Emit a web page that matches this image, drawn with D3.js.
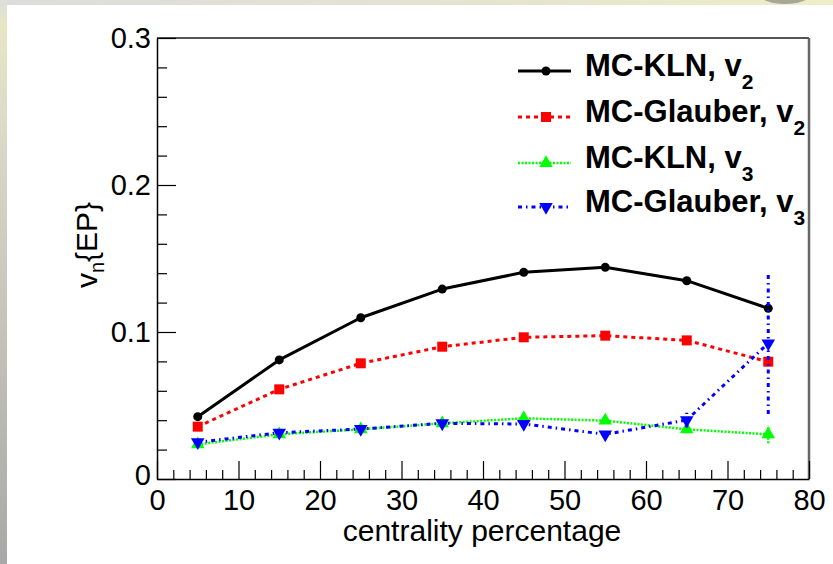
<!DOCTYPE html>
<html><head><meta charset="utf-8">
<script src="https://cdn.jsdelivr.net/npm/d3@7"></script>
<style>body{margin:0;background:#fff;} svg{display:block;}</style>
</head><body><svg id="c" width="833" height="564"></svg>
<script>
// ---- data ----
const centrality   = [5, 15, 25, 35, 45, 55, 65, 75];
const klnV2        = [0.0424, 0.0810, 0.1097, 0.1292, 0.1406, 0.1440, 0.1349, 0.1161];
const glauberV2    = [0.0356, 0.0610, 0.0787, 0.0900, 0.0964, 0.0975, 0.0943, 0.0798];
const klnV3        = [0.0236, 0.0304, 0.0338, 0.0379, 0.0413, 0.0397, 0.0338, 0.0304];
const glauberV3    = [0.0250, 0.0315, 0.0340, 0.0379, 0.0374, 0.0304, 0.0401, 0.0923];
const klnV3Err     = [0.001, 0.001, 0.001, 0.001, 0.001, 0.001, 0.002, 0.006];
const glauberV3Err = [0.001, 0.001, 0.001, 0.001, 0.001, 0.001, 0.005, 0.048];
const xTickValues  = [0, 10, 20, 30, 40, 50, 60, 70, 80];
const yTickValues  = [0, 0.1, 0.2, 0.3];
const yTickLabels  = ["0", "0.1", "0.2", "0.3"];
const seriesNames  = ["MC-KLN, v", "MC-Glauber, v", "MC-KLN, v", "MC-Glauber, v"];
const seriesSubs   = ["2", "2", "3", "3"];
const xTitle = "centrality percentage";

const svg = d3.select("#c");
const W = 833, H = 564;

// ---- slide background ----
const defs = svg.append("defs");
const lg = defs.append("linearGradient").attr("id","lstrip").attr("x1",0).attr("y1",0).attr("x2",0).attr("y2",1);
lg.append("stop").attr("offset","0").attr("stop-color","#dedede");
lg.append("stop").attr("offset","0.04").attr("stop-color","#e6e6c4");
lg.append("stop").attr("offset","0.2").attr("stop-color","#dcdcc8");
lg.append("stop").attr("offset","1").attr("stop-color","#a8a8a8");
const tg = defs.append("linearGradient").attr("id","tstrip").attr("x1",0).attr("y1",0).attr("x2",1).attr("y2",0);
tg.append("stop").attr("offset","0").attr("stop-color","#dcdcdc");
tg.append("stop").attr("offset","0.6").attr("stop-color","#e4e4d0");
tg.append("stop").attr("offset","1").attr("stop-color","#eeeec8");
svg.append("rect").attr("width",W).attr("height",H).attr("fill","#fff");
svg.append("rect").attr("x",0).attr("y",0).attr("width",W).attr("height",5).attr("fill","url(#tstrip)");
svg.append("rect").attr("x",0).attr("y",0).attr("width",7).attr("height",H).attr("fill","url(#lstrip)");
svg.append("ellipse").attr("cx",785).attr("cy",-6).attr("rx",26).attr("ry",10).attr("fill","#8a8a80").attr("opacity",0.7);

// ---- scales ----
const x0 = 157, x1 = 809, y0 = 479, y1 = 38;
const x = d3.scaleLinear().domain([0, 80]).range([x0, x1]);
const y = d3.scaleLinear().domain([0, 0.3]).range([y0, y1]);

// frame
svg.append("line").attr("x1",x0).attr("x2",x1).attr("y1",y1).attr("y2",y1).attr("stroke","#555").attr("stroke-width",2);
svg.append("line").attr("x1",x1).attr("x2",x1).attr("y1",y1).attr("y2",y0).attr("stroke","#666").attr("stroke-width",2.5);

// axes
const font = "'Liberation Sans', Arial, sans-serif";
const xAxis = d3.axisBottom(x).tickValues(d3.range(0, 81, 2)).tickSize(0).tickFormat("");
const gx = svg.append("g").attr("transform",`translate(0,${y0})`).call(xAxis);
gx.select(".domain").attr("stroke","#000").attr("stroke-width",1.5);
gx.selectAll(".tick line").attr("stroke","#000").attr("stroke-width",1.2)
  .attr("y2", d => (d % 10 === 0 ? -18 : -9));
gx.selectAll(".tick")
  .filter(d => d % 10 === 0)
  .append("text").attr("y", 31).attr("text-anchor","middle").attr("fill","#000")
  .style("font-family",font).style("font-size","29px")
  .text(d => xTickValues.includes(d) ? String(d) : "");

const yAxis = d3.axisLeft(y).tickValues(d3.range(0, 0.3001, 0.02)).tickSize(0).tickFormat("");
const gy = svg.append("g").attr("transform",`translate(${x0},0)`).call(yAxis);
gy.select(".domain").attr("stroke","#000").attr("stroke-width",1.5);
gy.selectAll(".tick line").attr("stroke","#000").attr("stroke-width",1.2)
  .attr("x2", (d) => (Math.abs(d*10 - Math.round(d*10)) < 1e-6 ? 19 : 10));
yTickValues.forEach((v, i) => {
  svg.append("text").attr("x", x0 - 6).attr("y", y(v) + 10 - (v === 0 ? 4 : 0)).attr("text-anchor","end")
    .style("font-family",font).style("font-size","29px").text(yTickLabels[i]);
});

// axis titles
svg.append("text").attr("x", 482).attr("y", 541).attr("text-anchor","middle")
  .style("font-family",font).style("font-size","30px").text(xTitle);
const yt = svg.append("text").attr("transform","translate(97,245) rotate(-90)").attr("text-anchor","middle")
  .style("font-family",font).style("font-size","30px");
yt.append("tspan").text("v");
yt.append("tspan").attr("dy",7).style("font-size","20px").text("n");
yt.append("tspan").attr("dy",-7).text("{EP}");

// ---- series ----
const series = [
  {vals: klnV2, err: null, color:"#000", width:3, dash:null, marker:"circle"},
  {vals: glauberV2, err: null, color:"#ff0000", width:3, dash:"4,4", marker:"square"},
  {vals: klnV3, err: klnV3Err, color:"#00ff00", width:2.5, dash:"2,1.5", marker:"triangleUp"},
  {vals: glauberV3, err: glauberV3Err, color:"#0000ff", width:3, dash:"4,4,1.5,4", marker:"triangleDown"}
];
const symType = {circle: d3.symbolCircle, square: d3.symbolSquare, triangleUp: d3.symbolTriangle, triangleDown: d3.symbolTriangle};
const symSize = {circle: 64, square: 100, triangleUp: 80, triangleDown: 80};

function drawMarker(g, type, cx, cy, color) {
  const p = d3.symbol().type(symType[type]).size(symSize[type])();
  g.append("path").attr("d", p).attr("fill", color)
    .attr("transform", `translate(${cx},${cy})` + (type === "triangleDown" ? " rotate(180)" : ""));
}

const line = d3.line().x(d => x(d[0])).y(d => y(d[1])).curve(d3.curveLinear);
series.forEach(s => {
  const g = svg.append("g");
  const pts = centrality.map((c, i) => [c, s.vals[i]]);
  const p = g.append("path").attr("d", line(pts)).attr("fill","none")
    .attr("stroke", s.color).attr("stroke-width", s.width).attr("stroke-linejoin","round");
  if (s.dash) p.attr("stroke-dasharray", s.dash);
  if (s.err) {
    centrality.forEach((c, i) => {
      const e = g.append("line").attr("x1", x(c)).attr("x2", x(c))
        .attr("y1", y(s.vals[i] - s.err[i])).attr("y2", y(s.vals[i] + s.err[i]))
        .attr("stroke", s.color).attr("stroke-width", s.width);
      if (s.dash) e.attr("stroke-dasharray", s.dash);
    });
  }
  centrality.forEach((c, i) => drawMarker(g, s.marker, x(c), y(s.vals[i]), s.color));
});

// ---- legend ----
const legRowY = [71, 117, 163, 207];
series.forEach((s, i) => {
  const g = svg.append("g");
  const ly = legRowY[i];
  const l = g.append("line").attr("x1", 518).attr("x2", 571).attr("y1", ly).attr("y2", ly)
    .attr("stroke", s.color).attr("stroke-width", s.width);
  if (s.dash) l.attr("stroke-dasharray", s.dash);
  drawMarker(g, s.marker, 546, ly, s.color);
  const t = g.append("text").attr("x", 585).attr("y", ly + 5)
    .style("font-family", font).style("font-size","31px").style("font-weight","bold");
  t.append("tspan").text(seriesNames[i]);
  t.append("tspan").attr("dy", 13).style("font-size","21px").text(seriesSubs[i]);
});
</script></body></html>
